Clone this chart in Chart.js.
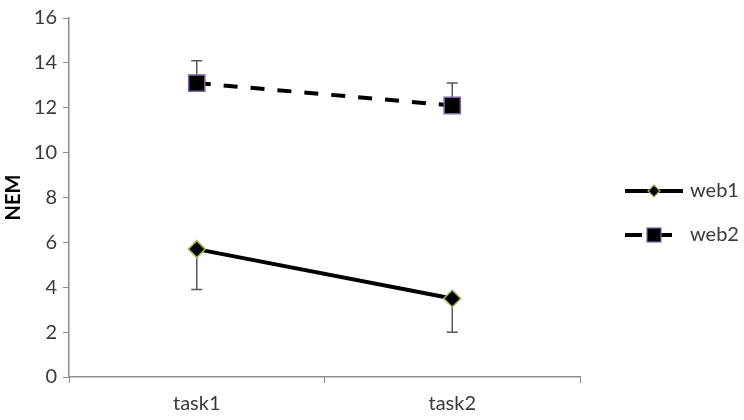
<!DOCTYPE html>
<html>
<head>
<meta charset="utf-8">
<style>
  html, body { margin: 0; padding: 0; background: #fff; }
  #wrap { width: 744px; height: 420px; position: relative; }
</style>
<script src="https://cdn.jsdelivr.net/npm/chart.js@4/dist/chart.umd.min.js"></script>
</head>
<body>
<div id="wrap"><canvas id="c" width="744" height="420"></canvas></div>
<script>
const categories = ['task1', 'task2'];
const web1 = [5.7, 3.5];
const web2 = [13.1, 12.1];
const web1ErrMinus = [1.8, 1.5];
const web2ErrPlus = [1.0, 1.0];
const yTicks = [0, 2, 4, 6, 8, 10, 12, 14, 16];
const seriesNames = ['web1', 'web2'];

const FONT = 'Lato, "Open Sans", "Liberation Sans", sans-serif';
const TEXT = '#3a3a3a';
const AXIS = '#8c8c8c';

const errorBars = {
  id: 'errorBars',
  beforeDatasetsDraw(chart) {
    const ctx = chart.ctx;
    const y = chart.scales.y;
    ctx.save();
    ctx.strokeStyle = '#595959';
    ctx.lineWidth = 1.5;
    const draw = (dsIndex, vals, errs, dir) => {
      const meta = chart.getDatasetMeta(dsIndex);
      meta.data.forEach((pt, i) => {
        const x = pt.x;
        const y0 = y.getPixelForValue(vals[i]);
        const y1 = y.getPixelForValue(vals[i] + dir * errs[i]);
        ctx.beginPath();
        ctx.moveTo(x, y0);
        ctx.lineTo(x, y1);
        ctx.moveTo(x - 5.5, y1);
        ctx.lineTo(x + 5.5, y1);
        ctx.stroke();
      });
    };
    draw(0, web1, web1ErrMinus, -1);
    draw(1, web2, web2ErrPlus, 1);
    ctx.restore();
  }
};

const customLegend = {
  id: 'customLegend',
  afterDraw(chart) {
    const ctx = chart.ctx;
    ctx.save();
    const x0 = 625, x1 = 683;
    const rows = [191, 235];
    // web1
    ctx.strokeStyle = '#000';
    ctx.lineWidth = 4;
    ctx.setLineDash([]);
    ctx.beginPath();
    ctx.moveTo(x0, rows[0]); ctx.lineTo(x1, rows[0]); ctx.stroke();
    const cx = (x0 + x1) / 2;
    ctx.beginPath();
    const r = 6;
    ctx.moveTo(cx, rows[0] - r); ctx.lineTo(cx + r, rows[0]);
    ctx.lineTo(cx, rows[0] + r); ctx.lineTo(cx - r, rows[0]); ctx.closePath();
    ctx.fillStyle = '#000'; ctx.fill();
    ctx.lineWidth = 1.2; ctx.strokeStyle = '#9bbb59'; ctx.stroke();
    // web2
    ctx.strokeStyle = '#000';
    ctx.lineWidth = 4;
    ctx.beginPath();
    ctx.moveTo(x0, rows[1]); ctx.lineTo(x0 + 17, rows[1]);
    ctx.moveTo(cx + 6, rows[1]); ctx.lineTo(x0 + 47, rows[1]);
    ctx.stroke();
    ctx.fillStyle = '#000';
    ctx.fillRect(cx - 7, rows[1] - 7, 14, 14);
    ctx.lineWidth = 1.2; ctx.strokeStyle = '#8064a2';
    ctx.strokeRect(cx - 7, rows[1] - 7, 14, 14);
    ctx.fillStyle = TEXT;
    ctx.font = '20px ' + FONT;
    ctx.textBaseline = 'middle';
    ctx.textAlign = 'left';
    ctx.fillText(seriesNames[0], 690, rows[0]);
    ctx.fillText(seriesNames[1], 690, rows[1]);
    ctx.restore();
  }
};

new Chart(document.getElementById('c'), {
  type: 'line',
  data: {
    labels: categories,
    datasets: [
      {
        label: seriesNames[0],
        data: web1,
        borderColor: '#000',
        borderWidth: 4,
        pointStyle: 'rectRot',
        pointRadius: 8.5,
        pointBackgroundColor: '#000',
        pointBorderColor: '#9bbb59',
        pointBorderWidth: 1.5,
        tension: 0
      },
      {
        label: seriesNames[1],
        data: web2,
        borderColor: '#000',
        borderWidth: 4,
        borderDash: [14, 13],
        pointStyle: 'rect',
        pointRadius: 11.5,
        pointBackgroundColor: '#000',
        pointBorderColor: '#8064a2',
        pointBorderWidth: 1.5,
        tension: 0
      }
    ]
  },
  options: {
    responsive: false,
    animation: false,
    devicePixelRatio: 1,
    layout: { padding: { top: 17, right: 164, left: 0, bottom: 0 } },
    plugins: { legend: { display: false }, tooltip: { enabled: false } },
    scales: {
      x: {
        type: 'category',
        offset: true,
        grid: { offset: true, drawOnChartArea: false, color: AXIS, tickLength: 6, lineWidth: 1 },
        border: { color: AXIS, width: 1.5 },
        ticks: { color: TEXT, font: { family: FONT, size: 20 }, padding: 9 },
        afterFit(s) { s.height = 43; }
      },
      y: {
        min: 0, max: 16,
        afterBuildTicks(s) { s.ticks = yTicks.map(v => ({ value: v })); },
        grid: { drawOnChartArea: false, color: AXIS, tickLength: 6 },
        border: { color: AXIS, width: 1.5 },
        ticks: { color: TEXT, font: { family: FONT, size: 20 }, padding: 6 },
        title: { display: true, text: 'NEM', color: '#000', font: { family: FONT, size: 20, weight: 'bold' }, padding: { top: 2, bottom: 2 } },
        afterFit(s) { s.width = 69; }
      }
    }
  },
  plugins: [errorBars, customLegend]
});
</script>
</body>
</html>
